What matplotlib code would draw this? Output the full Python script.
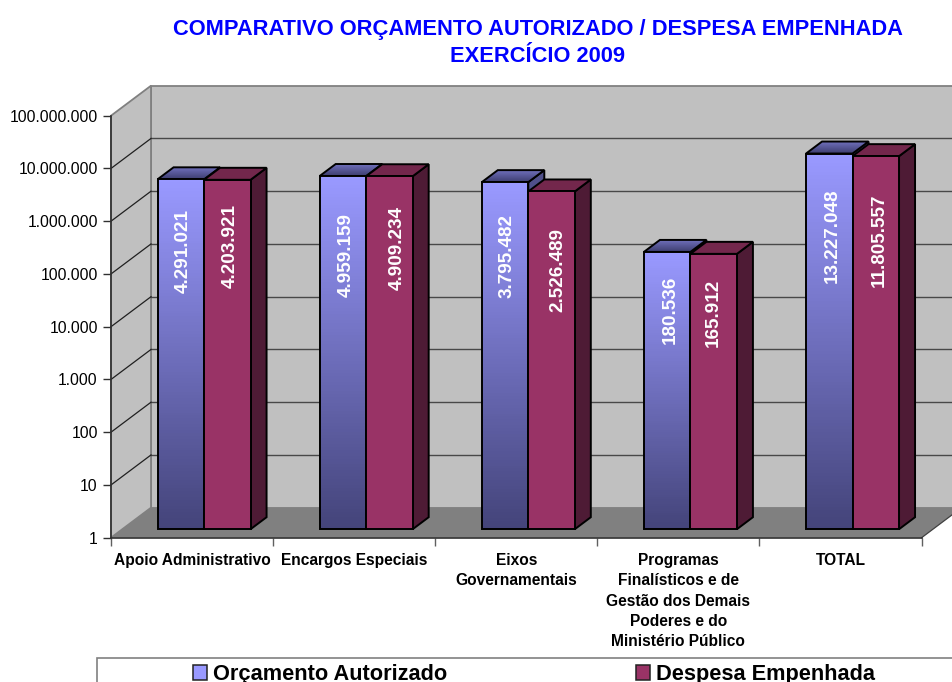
import numpy as np
import matplotlib
matplotlib.use("Agg")
import matplotlib.pyplot as plt
from matplotlib.colors import LinearSegmentedColormap
from matplotlib.patches import Polygon, Patch, Rectangle
from matplotlib.transforms import IdentityTransform
from matplotlib.ticker import FuncFormatter

plt.rcParams['font.family'] = ['Liberation Sans', 'DejaVu Sans']

# ---- data ----
categories = ["Apoio Administrativo", "Encargos Especiais", "Eixos\nGovernamentais",
              "Programas\nFinalísticos e de\nGestão dos Demais\nPoderes e do\nMinistério Público",
              "TOTAL"]
orcamento = [4291021, 4959159, 3795482, 180536, 13227048]
despesa = [4203921, 4909234, 2526489, 165912, 11805557]
series_names = ["Orçamento Autorizado", "Despesa Empenhada"]
yticks = [1, 10, 100, 1000, 10000, 100000, 1000000, 10000000, 100000000]
title = "COMPARATIVO ORÇAMENTO AUTORIZADO / DESPESA EMPENHADA\nEXERCÍCIO 2009"

# label placement in pixels (x centre, y centre from the top of the image)
lab_blue = [(183, 251), (346, 255), (507, 256.5), (670, 310), (832, 235.5)]
lab_red = [(230, 246), (397, 248), (558, 270.5), (713, 313), (879, 240)]

W, H = 952, 682
fig = plt.figure(figsize=(W / 100, H / 100), dpi=100, facecolor='white')
L, R, T, B = 111, 921.6, 115.7, 537.7
ax = fig.add_axes([L / W, 1 - B / H, (R - L) / W, (B - T) / H])
ax.patch.set_visible(False)
ax.set_yscale('log')
ax.set_xlim(0, 5)
ax.set_ylim(1, 1e8)

WALL, FLOOR = '#C0C0C0', '#808080'
BACK = np.array([40, 30])
BAR_SHIFT = np.array([12, 8.5])
DEPTH = np.array([16, 12])
BAR_W = 46.5 / 162.1
ID = IdentityTransform()
EDGE = 1.4


def px(x, y, shift=(0, 0)):
    return ax.transData.transform((x, y)) + np.asarray(shift, float)


def poly(pts, fc, ec='none', lw=0, z=1):
    ax.add_patch(Polygon(pts, closed=True, facecolor=fc, edgecolor=ec, linewidth=lw,
                         transform=ID, clip_on=False, zorder=z, joinstyle='miter'))


# walls and floor
poly([px(0, 1, BACK), px(5, 1, BACK), px(5, 1e8, BACK), px(0, 1e8, BACK)], WALL, '#808080', 1.3, 1)
poly([px(0, 1), px(0, 1e8), px(0, 1e8, BACK), px(0, 1, BACK)], WALL, '#808080', 1.3, 1)
for t in yticks[1:-1]:
    ax.plot(*zip(px(0, t, BACK), px(5, t, BACK)), color='#484848', lw=1.0, transform=ID,
            clip_on=False, zorder=1.5)
    ax.plot(*zip(px(0, t), px(0, t, BACK)), color='#202020', lw=0.9, transform=ID,
            clip_on=False, zorder=1.5)
poly([px(0, 1), px(5, 1), px(5, 1, BACK), px(0, 1, BACK)], FLOOR, z=1.6)
ax.plot(*zip(px(5, 1), px(5, 1, BACK)), color='#404040', lw=0.9, transform=ID, clip_on=False, zorder=1.7)

blue_cmap = LinearSegmentedColormap.from_list('b', ['#44447A', '#9999FF'])
top_cmap = LinearSegmentedColormap.from_list('t', ['#3C3C6E', '#6F6FBB'])


def grad(x0, x1, y0, y1, cmap, z, clip=None):
    ys = np.linspace(y0, y1, 121)
    c = np.linspace(0, 1, 120).reshape(-1, 1)
    m = ax.pcolormesh([x0, x1], ys, c, cmap=cmap, transform=ID, zorder=z, clip_on=False,
                      shading='flat', antialiased=False, edgecolors='none')
    if clip is not None:
        m.set_clip_path(clip)
        m.set_clip_on(True)
    return m


def bar(x0, value, kind, z):
    a = px(x0, 1, BAR_SHIFT)
    b = px(x0 + BAR_W, 1, BAR_SHIFT)
    c = px(x0 + BAR_W, value, BAR_SHIFT)
    d = px(x0, value, BAR_SHIFT)
    side = [b, b + DEPTH, c + DEPTH, c]
    top = [d, c, c + DEPTH, d + DEPTH]
    if kind == 'blue':
        poly(side, '#50508A', 'black', EDGE, z)
        clip = Polygon(top, closed=True, transform=ID)
        grad(d[0], c[0] + DEPTH[0], d[1], d[1] + DEPTH[1], top_cmap, z + .01, clip)
        poly(top, 'none', 'black', EDGE, z + .02)
        grad(a[0], b[0], a[1], d[1], blue_cmap, z + .03)
        poly([a, b, c, d], 'none', 'black', EDGE, z + .04)
    else:
        poly(side, '#4E1B35', 'black', EDGE, z)
        poly(top, '#73274C', 'black', EDGE, z + .02)
        poly([a, b, c, d], '#993366', 'black', EDGE, z + .04)


for i in range(len(categories)):
    bar(i + .5 - BAR_W, orcamento[i], 'blue', 3 + i)
    bar(i + .5, despesa[i], 'red', 3.5 + i)


def lab(v):
    return f"{v:,}".replace(",", ".")


for vals, pos in ((orcamento, lab_blue), (despesa, lab_red)):
    for v, (x, y) in zip(vals, pos):
        ax.text(x, H - y, lab(v), transform=ID, rotation=90, color='white', fontsize=13.6,
                fontweight='bold', ha='center', va='center', zorder=20)

# axes
for s in ('top', 'right'):
    ax.spines[s].set_visible(False)
for s in ('left', 'bottom'):
    ax.spines[s].set_color('#303030')
    ax.spines[s].set_linewidth(1.2)
    ax.spines[s].set_zorder(2)
ax.set_yticks(yticks)
ax.minorticks_off()
ax.yaxis.set_major_formatter(FuncFormatter(lambda v, _: lab(int(round(v)))))
ax.tick_params(axis='y', length=5.5, width=1, color='#303030', labelsize=11.3, pad=4)
ax.set_xticks(range(6))
ax.set_xticklabels([])
ax.tick_params(axis='x', length=5.5, width=1, color='#606060')
ax.set_xticks(np.arange(5) + .5, categories, minor=True)
ax.tick_params(axis='x', which='minor', length=0, labelsize=11.2, pad=11)
for t in ax.get_xticklabels(minor=True):
    t.set_fontweight('bold')
    t.set_linespacing(1.44)
    t.set_va('top')

# title
fig.suptitle(title, x=538 / W, y=1 - 19 / H, va='top', ha='center', color='#0000FF',
             fontsize=15.75, fontweight='bold', linespacing=1.38)

# legend, cut by the lower edge as in the source
fig.add_artist(Rectangle((97 / W, -0.05), 1, 0.05 + 1 - 658 / H, transform=fig.transFigure,
                         facecolor='white', edgecolor='#808080', linewidth=1.2))
handles = [Patch(facecolor='#9999FF', edgecolor='#222222', linewidth=1.1),
           Patch(facecolor='#993366', edgecolor='#222222', linewidth=1.1)]
fig.legend(handles, series_names, loc='upper left', bbox_to_anchor=(193 / W, 1 - 664 / H),
           ncol=2, frameon=False, borderpad=0, borderaxespad=0,
           prop={'weight': 'bold', 'size': 15.7}, handlelength=0.64, handleheight=0.64,
           handletextpad=0.27, columnspacing=8.65)

fig.savefig('out.png', dpi=100)
